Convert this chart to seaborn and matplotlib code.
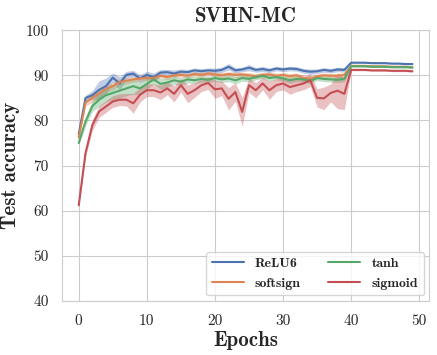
import matplotlib
matplotlib.use('Agg')
import matplotlib.pyplot as plt
import seaborn as sns
import numpy as np

sns.set_style('whitegrid')

# data
epochs = list(range(50))

relu6 = [77.0, 85.0, 85.6, 86.8, 87.6, 89.5, 88.2, 90.1, 90.4, 89.3,
         90.1, 89.6, 90.6, 90.7, 90.4, 90.8, 90.7, 91.1, 90.9, 91.1,
         91.0, 91.2, 91.9, 91.1, 91.3, 91.7, 91.2, 91.4, 91.1, 91.5,
         91.3, 91.5, 91.4, 91.0, 90.8, 90.9, 91.2, 91.0, 91.3, 91.2,
         92.8, 92.8, 92.8, 92.7, 92.7, 92.7, 92.6, 92.6, 92.5, 92.5]
relu6_sd = [0.5, 0.6, 1.0, 2.0, 1.8, 1.0, 1.5, 0.8, 0.7, 0.9,
            0.8, 0.9, 0.7, 0.6, 0.8, 0.6, 0.6, 0.5, 0.6, 0.5,
            0.6, 0.6, 0.7, 0.6, 0.5, 0.7, 0.5, 0.6, 0.5, 0.5,
            0.5, 0.5, 0.5, 0.5, 0.6, 0.5, 0.5, 0.5, 0.5, 0.5,
            0.15, 0.15, 0.15, 0.15, 0.15, 0.15, 0.15, 0.15, 0.15, 0.15]

softsign = [76.2, 84.0, 85.0, 86.0, 87.0, 87.6, 88.5, 88.8, 89.1, 89.3,
            89.4, 89.4, 89.9, 89.6, 90.0, 90.1, 89.9, 90.3, 90.1, 90.4,
            90.2, 90.0, 90.3, 90.1, 90.2, 90.0, 89.8, 90.1, 90.2, 89.9,
            90.1, 89.8, 90.0, 89.4, 89.2, 89.8, 90.0, 89.9, 89.9, 90.1,
            92.1, 92.1, 92.1, 92.0, 92.0, 92.0, 91.9, 91.9, 91.9, 91.8]
softsign_sd = [0.5, 0.8, 1.0, 1.0, 0.9, 0.8, 0.8, 0.7, 0.6, 0.6,
               0.6, 0.6, 0.5, 0.6, 0.5, 0.5, 0.5, 0.5, 0.5, 0.5,
               0.5, 0.6, 0.5, 0.6, 0.5, 0.6, 0.6, 0.5, 0.5, 0.6,
               0.5, 0.6, 0.5, 0.7, 0.7, 0.5, 0.5, 0.5, 0.5, 0.5,
               0.15, 0.15, 0.15, 0.15, 0.15, 0.15, 0.15, 0.15, 0.15, 0.15]

tanh = [75.0, 79.8, 83.2, 84.6, 85.6, 86.1, 86.6, 87.1, 87.6, 87.1,
        88.1, 89.1, 88.1, 88.4, 88.9, 88.6, 89.1, 88.9, 89.2, 89.0,
        89.4, 89.1, 89.3, 88.9, 89.4, 89.2, 89.6, 89.9, 89.4, 89.6,
        89.3, 88.9, 89.2, 89.1, 88.8, 89.4, 89.2, 89.1, 89.0, 89.2,
        92.0, 92.0, 92.0, 91.9, 91.9, 91.9, 91.8, 91.8, 91.8, 91.7]
tanh_sd = [0.5, 1.0, 1.2, 1.5, 1.5, 1.6, 1.6, 1.6, 1.8, 1.5,
           1.2, 1.0, 1.2, 1.0, 0.9, 0.9, 0.8, 0.8, 0.7, 0.7,
           0.7, 0.7, 0.7, 0.8, 0.7, 0.7, 0.6, 0.6, 0.7, 0.6,
           0.6, 0.7, 0.6, 0.6, 0.6, 0.6, 0.6, 0.6, 0.6, 0.6,
           0.15, 0.15, 0.15, 0.15, 0.15, 0.15, 0.15, 0.15, 0.15, 0.15]

sigmoid = [61.2, 72.8, 79.0, 82.0, 83.1, 84.2, 84.6, 84.6, 83.8, 85.7,
           86.7, 86.7, 86.2, 87.1, 85.9, 87.8, 85.9, 86.7, 87.8, 88.3,
           86.9, 87.1, 84.8, 86.3, 81.9, 87.8, 86.7, 88.2, 86.7, 87.8,
           88.2, 87.4, 87.8, 88.2, 88.9, 85.0, 84.9, 86.1, 86.6, 85.9,
           91.2, 91.2, 91.2, 91.1, 91.1, 91.1, 91.0, 91.0, 91.0, 90.9]
sigmoid_sd = [0.5, 0.8, 1.2, 1.3, 1.3, 1.3, 1.3, 1.4, 2.2, 1.6,
              1.4, 1.4, 1.6, 1.4, 1.8, 1.5, 2.0, 1.6, 1.4, 1.4,
              2.0, 1.6, 2.5, 2.0, 3.2, 1.6, 1.7, 1.4, 2.0, 1.4,
              1.4, 1.6, 1.4, 1.4, 1.4, 2.0, 2.5, 2.0, 4.0, 3.5,
              0.2, 0.2, 0.2, 0.2, 0.2, 0.2, 0.2, 0.2, 0.2, 0.2]

series = [
    ('ReLU6', relu6, relu6_sd),
    ('softsign', softsign, softsign_sd),
    ('tanh', tanh, tanh_sd),
    ('sigmoid', sigmoid, sigmoid_sd),
]
colors = sns.color_palette('deep', 4)

fig = plt.figure(figsize=(4.37, 3.55), dpi=100)
ax = fig.add_axes([0.142, 0.152, 0.840, 0.763])

for (name, mean, sd), c in zip(series, colors):
    mean = np.array(mean)
    sd = np.array(sd)
    sns.lineplot(x=epochs, y=mean, ax=ax, color=c, linewidth=1.5, label=name)
    ax.fill_between(epochs, mean - sd, mean + sd, color=c, alpha=0.35, linewidth=0)

ax.set_ylim(40, 100)
ax.set_xticks([0, 10, 20, 30, 40, 50])
ax.set_yticks([40, 50, 60, 70, 80, 90, 100])

bold = {'family': 'cmb10'}
for lab in ax.get_xticklabels() + ax.get_yticklabels():
    lab.set_fontfamily('cmr10')
    lab.set_fontsize(11)
ax.tick_params(axis='both', pad=6)

ax.set_title('SVHN-MC', fontdict=bold, fontsize=15, pad=6)
ax.set_xlabel('Epochs', fontdict=bold, fontsize=15, labelpad=2)
ax.set_ylabel('Test accuracy', fontdict=bold, fontsize=15, labelpad=4)

ax.legend(loc='lower right', ncol=2, prop={'family': 'cmb10', 'size': 10},
          handlelength=2.3, columnspacing=2.0, borderaxespad=0.4,
          frameon=True)

fig.savefig('out.png', dpi=100)
plt.close(fig)
